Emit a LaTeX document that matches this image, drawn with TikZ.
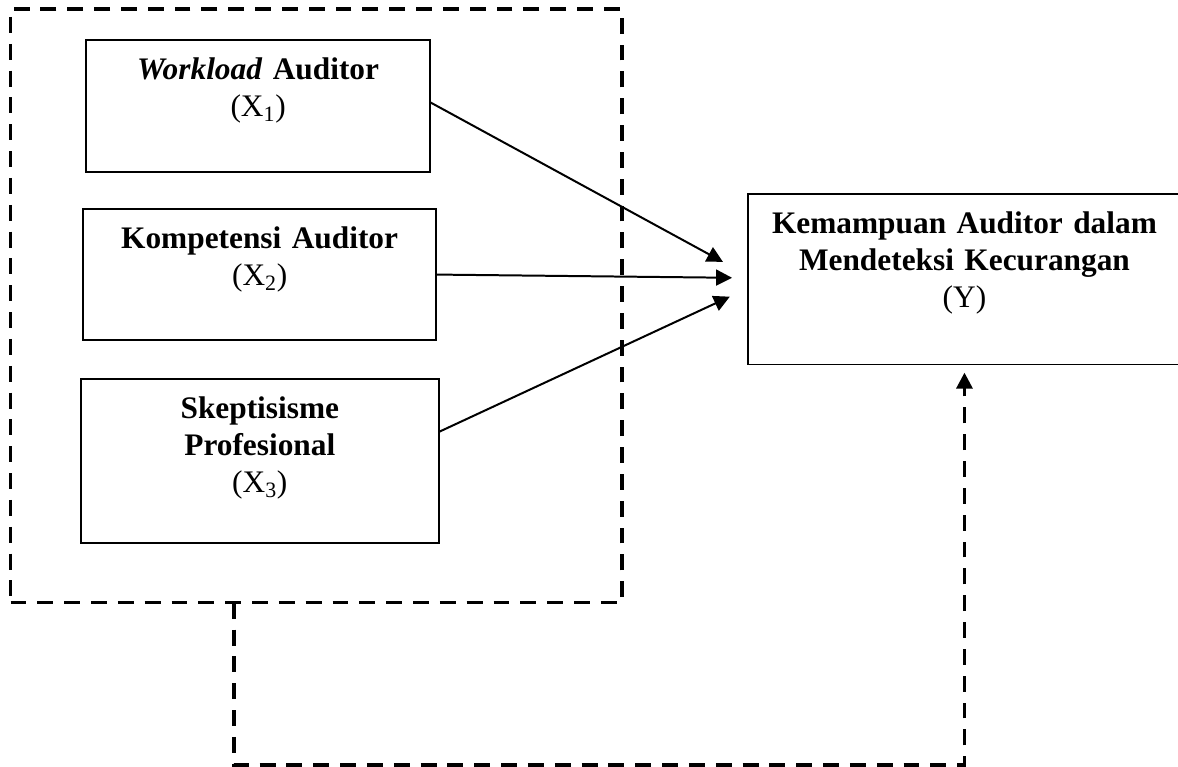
\documentclass[tikz,border=0pt]{standalone}
\usepackage{fontspec}
\setmainfont{Liberation Serif}
\usetikzlibrary{arrows.meta}

\begin{document}
\begin{tikzpicture}
    \tikzstyle{varbox} = [draw, line width=1.1pt, inner sep=0pt, outer sep=0pt, align=center, anchor=north west, text height=1.05cm, font=\fontsize{23.6}{27.75}\selectfont]
    \tikzstyle{group box} = [draw, line width=2.5pt, dash pattern=on 0.42cm off 0.29cm, inner sep=0pt, outer sep=0pt, anchor=north west]
    \tikzstyle{link} = [line width=1.5pt, -{Triangle[length=12pt, width=12pt]}]
    \tikzstyle{feedback} = [link, line width=2.5pt, dash pattern=on 0.42cm off 0.29cm]
    \useasboundingbox (0, 0) rectangle (31.17, -20.29);
    % independent variables
    \node[group box, minimum width=16.18cm, minimum height=15.71cm] (grp) at (0.28, -0.24) {};
    \node[varbox, text width=9.10cm, text depth=2.44cm] (x1) at (2.28, -1.06) {\textbf{\textit{Workload} Auditor}\\(X\textsubscript{1})};
    \node[varbox, text width=9.34cm, text depth=2.42cm] (x2) at (2.20, -5.53) {\textbf{Kompetensi Auditor}\\(X\textsubscript{2})};
    \node[varbox, text width=9.47cm, text depth=3.29cm] (x3) at (2.14, -10.03) {\textbf{Skeptisisme}\\\textbf{Profesional}\\(X\textsubscript{3})};
    % dependent variable
    \node[varbox, text width=11.46cm, text depth=3.47cm] (y) at (19.79, -5.13) {\textbf{Kemampuan Auditor dalam}\\\textbf{Mendeteksi Kecurangan}\\(Y)};
    \draw[link] ([yshift=0.1cm]x1.east) -- ([xshift=-0.66cm, yshift=0.46cm]y.west);
    \draw[link] (x2.east) -- ([xshift=-0.42cm, yshift=0.04cm]y.west);
    \draw[link] ([yshift=0.77cm]x3.east) -- ([xshift=-0.48cm, yshift=-0.46cm]y.west);
    \draw[feedback] ([xshift=5.91cm]grp.south west) -- ++(0, -4.29) -| ([yshift=-0.21cm]y.south);
\end{tikzpicture}
\end{document}
